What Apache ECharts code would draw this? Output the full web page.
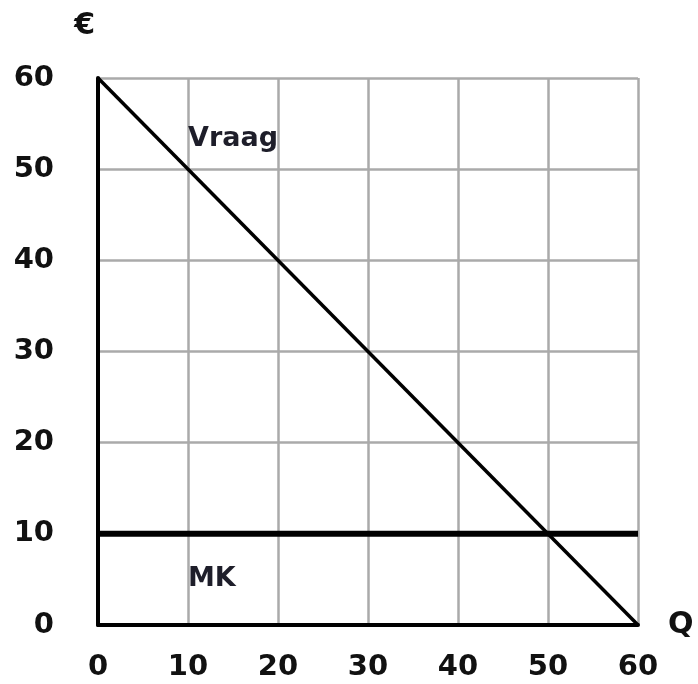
<!DOCTYPE html>
<html>
<head>
<meta charset="utf-8">
<script src="https://cdn.jsdelivr.net/npm/echarts@6/dist/echarts.min.js"></script>
<style>html,body{margin:0;padding:0;background:#fff;}#c{width:698px;height:684px;}</style>
</head>
<body>
<div id="c"></div>
<script>
var quantityTicks = [0, 10, 20, 30, 40, 50, 60];
var priceTicks = [0, 10, 20, 30, 40, 50, 60];
var demandQ = [0, 60];
var demandP = [60, 0];
var mkQ = [0, 60];
var mkP = [10, 10];
var curveLabels = ['Vraag', 'MK'];
var curveLabelPos = [[10, 53.3], [10, 5.0]];

var chart = echarts.init(document.getElementById('c'));
var FONT = '"DejaVu Sans", sans-serif';
chart.setOption({
  backgroundColor: '#fff',
  animation: false,
  grid: { left: 98, right: 60, top: 78, bottom: 59 },
  xAxis: {
    type: 'value', min: quantityTicks[0], max: quantityTicks[quantityTicks.length - 1], interval: 10,
    name: 'Q', nameLocation: 'end', nameGap: 30,
    nameTextStyle: { fontFamily: FONT, fontWeight: 'bold', fontSize: 30, color: '#111', verticalAlign: 'middle' },
    axisLine: { show: true, lineStyle: { color: '#000', width: 4 } },
    axisTick: { show: false },
    axisLabel: { margin: 28, fontFamily: FONT, fontWeight: 'bold', fontSize: 29, color: '#111' },
    splitLine: { show: true, lineStyle: { color: '#aaa', width: 2.5 } }
  },
  yAxis: {
    type: 'value', min: priceTicks[0], max: priceTicks[priceTicks.length - 1], interval: 10,
    name: '€', nameLocation: 'end', nameGap: 52,
    nameTextStyle: { fontFamily: FONT, fontWeight: 'bold', fontSize: 30, color: '#111', align: 'right', verticalAlign: 'middle', padding: [0, 3, 0, 0] },
    axisLine: { show: true, lineStyle: { color: '#000', width: 4 } },
    axisTick: { show: false },
    axisLabel: { margin: 44, fontFamily: FONT, fontWeight: 'bold', fontSize: 29, color: '#111', padding: [0, 0, 4, 0] },
    splitLine: { show: true, lineStyle: { color: '#aaa', width: 2.5 } }
  },
  series: [
    {
      type: 'line', symbol: 'none', z: 5,
      data: demandQ.map(function (q, i) { return [q, demandP[i]]; }),
      lineStyle: { color: '#000', width: 3.5 }
    },
    {
      type: 'line', symbol: 'none', z: 4,
      data: mkQ.map(function (q, i) { return [q, mkP[i]]; }),
      lineStyle: { color: '#000', width: 6 }
    },
    {
      type: 'scatter', symbolSize: 0, z: 6,
      data: curveLabels.map(function (n, i) { return { name: n, value: curveLabelPos[i] }; }),
      itemStyle: { opacity: 1 },
      label: { show: true, position: 'right', distance: 0, formatter: '{b}', opacity: 1,
        fontFamily: FONT, fontWeight: 'bold', fontSize: 27, color: '#1e1e2a' }
    }
  ]
});
</script>
</body>
</html>
